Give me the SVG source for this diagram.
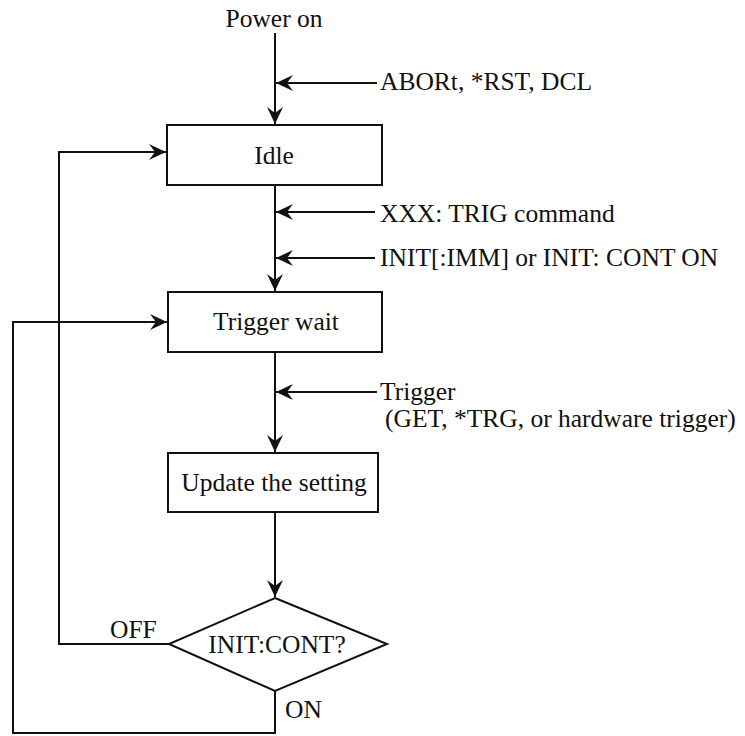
<svg xmlns="http://www.w3.org/2000/svg" width="745" height="736" viewBox="0 0 745 736">
<style>
text{font-family:'Liberation Serif','Times New Roman',serif;font-size:25.5px;fill:#111}
.c{text-anchor:middle}
.box{fill:#fff;stroke:#111;stroke-width:2}
.ln{fill:none;stroke:#111;stroke-width:2}
</style>
<defs>
<marker id="ah" markerUnits="userSpaceOnUse" markerWidth="24" markerHeight="20" viewBox="-18 -10 20 20" refX="0" refY="0" orient="auto">
<path d="M0,0 L-17,-8 L-11,0 L-17,8 Z" fill="#111"/>
</marker>
</defs>
<rect width="745" height="736" fill="#fff"/>
<g id="connectors">
<path class="ln" d="M275,33 V124" marker-end="url(#ah)"/>
<path class="ln" d="M377,83 H276" marker-end="url(#ah)"/>
<path class="ln" d="M275,185 V291" marker-end="url(#ah)"/>
<path class="ln" d="M375,212 H276" marker-end="url(#ah)"/>
<path class="ln" d="M375,258 H276" marker-end="url(#ah)"/>
<path class="ln" d="M275,352 V452" marker-end="url(#ah)"/>
<path class="ln" d="M377,392 H276" marker-end="url(#ah)"/>
<path class="ln" d="M275,512 V597" marker-end="url(#ah)"/>
<path class="ln" d="M169,644 H59 V152 H166" marker-end="url(#ah)"/>
<path class="ln" d="M275,691 V733 H13 V322 H167" marker-end="url(#ah)"/>
</g>
<g id="power-on"><text class="c" x="274" y="27">Power on</text></g>
<g id="label-abort"><text x="380" y="90">ABORt, *RST, DCL</text></g>
<g id="idle">
<rect class="box" x="167" y="125" width="215" height="60"/>
<text class="c" x="274" y="164">Idle</text>
</g>
<g id="label-trig"><text x="380" y="222">XXX: TRIG command</text></g>
<g id="label-init"><text x="380" y="266">INIT[:IMM] or INIT: CONT ON</text></g>
<g id="trigger-wait">
<rect class="box" x="168" y="292" width="214" height="60"/>
<text class="c" x="276" y="330">Trigger wait</text>
</g>
<g id="label-trigger">
<text x="380" y="400">Trigger</text>
<text x="385" y="427">(GET, *TRG, or hardware trigger)</text>
</g>
<g id="update">
<rect class="box" x="168" y="453" width="210" height="59"/>
<text class="c" x="274" y="491">Update the setting</text>
</g>
<g id="decision">
<polygon class="box" points="275,598 387,644 275,691 169,644"/>
<text class="c" x="277" y="653">INIT:CONT?</text>
</g>
<g id="label-off"><text x="110" y="638">OFF</text></g>
<g id="label-on"><text x="285" y="718">ON</text></g>
</svg>
